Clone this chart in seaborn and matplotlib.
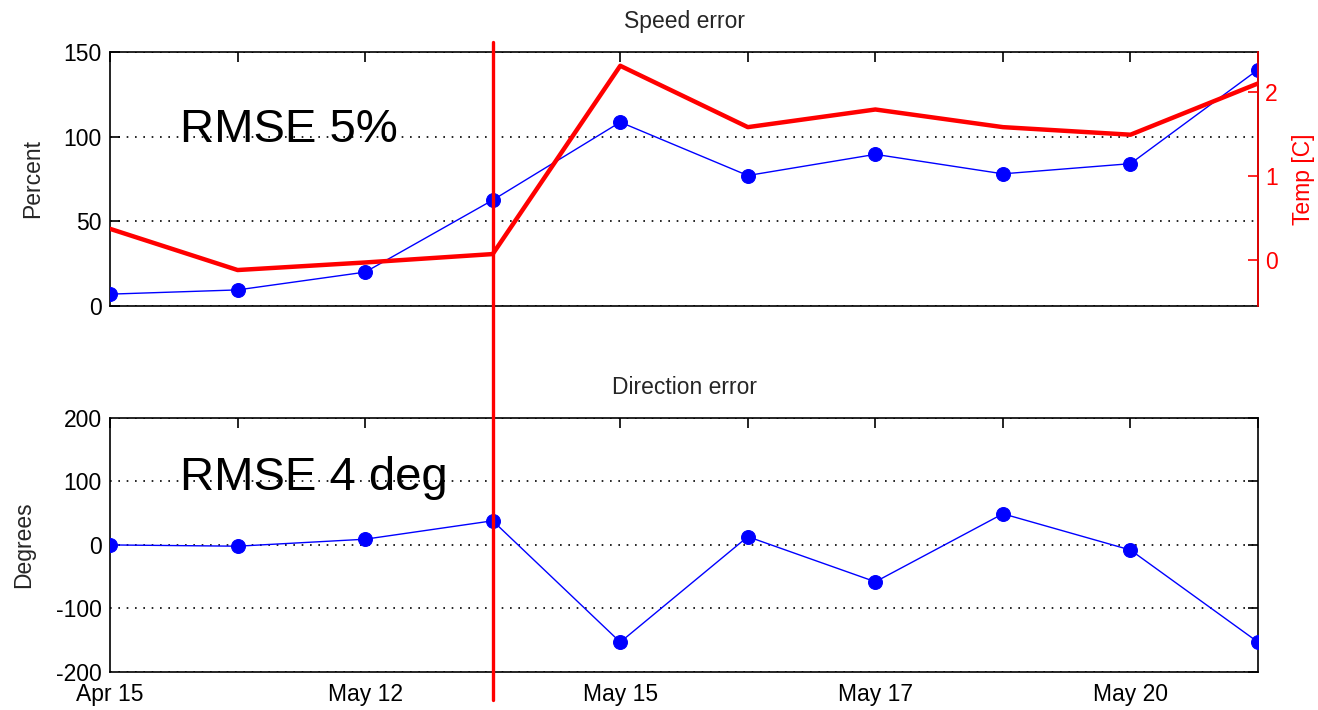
import matplotlib
matplotlib.use("Agg")
import matplotlib.pyplot as plt
import matplotlib.transforms as mtransforms
from matplotlib.lines import Line2D
import seaborn as sns
import pandas as pd

# ---- data ----
day_index = list(range(10))
tick_labels = ["Apr 15", "", "May 12", "", "May 15", "", "May 17", "", "May 20", ""]
speed_error = [7, 9.5, 20, 62.5, 108.5, 77, 89.5, 78, 84, 139.5]
temp_c = [0.37, -0.12, -0.03, 0.07, 2.31, 1.58, 1.79, 1.58, 1.49, 2.1]
direction_error = [0, -2, 9, 38, -153, 13, -58, 49, -8, -153]
event_index = 3
rmse_speed = "RMSE 5%"
rmse_dir = "RMSE 4 deg"

sns.set_style("white")
plt.rcParams['font.family'] = ['Liberation Sans', 'DejaVu Sans']
plt.rcParams['axes.unicode_minus'] = False

fig = plt.figure(figsize=(13.18, 7.10), dpi=100)
ax1 = fig.add_axes([0.0835, 0.569, 0.871, 0.358])
ax3 = fig.add_axes([0.0835, 0.0535, 0.871, 0.358])

df = pd.DataFrame({"x": day_index, "speed": speed_error, "temp": temp_c, "dir": direction_error})

fs = 16.5

def style_axis(ax, ylim, yticks):
    ax.set_xlim(0, 9)
    ax.set_ylim(*ylim)
    ax.set_yticks(yticks)
    ax.set_xticks(day_index)
    for y in yticks:
        ax.axhline(y, color="black", linestyle=(0, (1, 4)), lw=1.2, zorder=0)
    ax.tick_params(direction="in", length=7, width=1.2, top=True, right=True,
                   labelsize=fs, colors="black")
    ax.tick_params(axis="y", pad=6)
    ax.tick_params(axis="x", pad=8)
    for s in ax.spines.values():
        s.set_color("black")
        s.set_linewidth(1.2)

# ---- top panel ----
sns.lineplot(data=df, x="x", y="speed", ax=ax1, color="blue", lw=1.0,
             marker="o", markersize=10, markeredgecolor="blue", zorder=3)
style_axis(ax1, (0, 150), [0, 50, 100, 150])
ax1.set_xticklabels([])
ax1.set_xlabel("")
ax1.set_ylabel("Percent", fontsize=fs, labelpad=14)
ax1.set_title("Speed error", fontsize=fs, pad=17)
ax1.text(0.55, 104, rmse_speed, fontsize=34, va="center", ha="left", color="black")

ax2 = ax1.twinx()
sns.lineplot(data=df, x="x", y="temp", ax=ax2, color="red", lw=3.2, zorder=4)
ax2.set_xlim(0, 9)
ax2.set_ylim(-0.548, 2.476)
ax2.set_yticks([0, 1, 2])
ax2.tick_params(axis="y", direction="in", length=7, width=1.2, colors="red", labelsize=fs, pad=5)
ax2.spines["right"].set_color("red")
ax2.spines["right"].set_linewidth(1.2)
for k in ["left", "top", "bottom"]:
    ax2.spines[k].set_visible(False)
ax2.set_ylabel("Temp [C]", color="red", fontsize=fs, labelpad=10)
ax2.set_xlabel("")

# ---- bottom panel ----
sns.lineplot(data=df, x="x", y="dir", ax=ax3, color="blue", lw=1.0,
             marker="o", markersize=10, markeredgecolor="blue", zorder=3)
style_axis(ax3, (-200, 200), [-200, -100, 0, 100, 200])
ax3.set_xticklabels(tick_labels)
ax3.set_xlabel("")
ax3.set_ylabel("Degrees", fontsize=fs, labelpad=15)
ax3.set_title("Direction error", fontsize=fs, pad=17)
ax3.text(0.55, 105, rmse_dir, fontsize=34, va="center", ha="left", color="black")

# ---- vertical event line across both panels ----
trans = mtransforms.blended_transform_factory(ax1.transData, fig.transFigure)
fig.add_artist(Line2D([event_index, event_index], [0.014, 0.941], transform=trans,
                      color="red", lw=2.4, zorder=10))

fig.savefig("out.png", dpi=100)
